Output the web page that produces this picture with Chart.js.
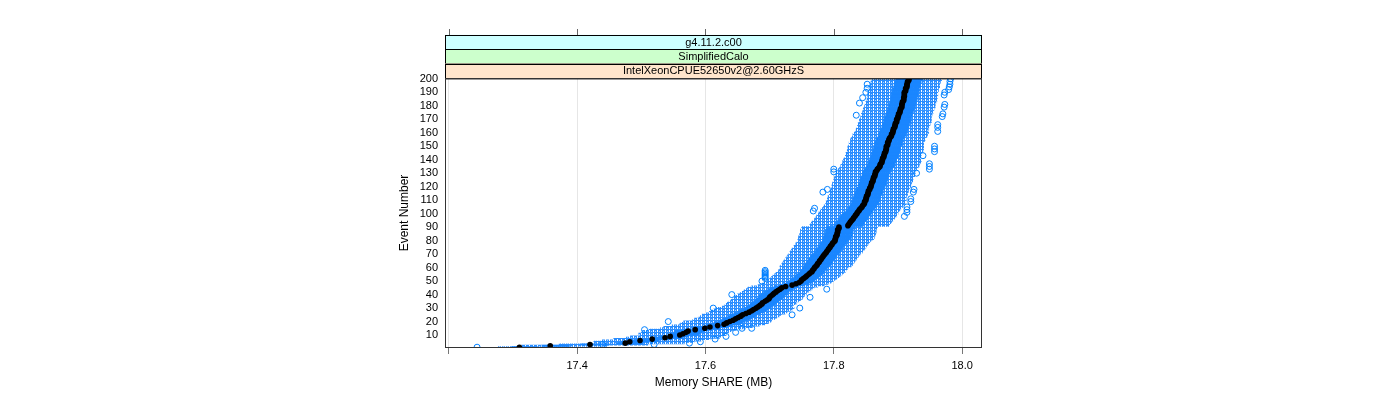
<!DOCTYPE html>
<html>
<head>
<meta charset="utf-8">
<script src="https://cdn.jsdelivr.net/npm/chart.js@4.4.0/dist/chart.umd.min.js"></script>
<style>
html, body { margin: 0; padding: 0; background: #fff; }
canvas { display: block; }
</style>
</head>
<body>
<canvas id="bwChart" width="1400" height="400"></canvas>
<script>
// panel strips, outermost first
const stripLabels = ['g4.11.2.c00', 'SimplifiedCalo', 'IntelXeonCPUE52650v2@2.60GHzS'];

// memory share (MB) per event number 1..200
const medians = [
  17.310, 17.358, 17.420, 17.475, 17.482, 17.498, 17.517, 17.537, 17.545, 17.560,
  17.565, 17.570, 17.573, 17.584, 17.599, 17.607, 17.619, 17.629, 17.633, 17.638,
  17.643, 17.647, 17.651, 17.655, 17.658, 17.663, 17.668, 17.672, 17.675, 17.679,
  17.682, 17.685, 17.688, 17.689, 17.693, 17.696, 17.699, 17.700, 17.702, 17.705,
  17.707, 17.710, 17.713, 17.716, 17.719, 17.725, 17.735, 17.741, 17.746, 17.749,
  17.750, 17.753, 17.756, 17.758, 17.761, 17.763, 17.766, 17.767, 17.769, 17.770,
  17.772, 17.774, 17.775, 17.777, 17.778, 17.780, 17.781, 17.783, 17.784, 17.786,
  17.788, 17.789, 17.791, 17.792, 17.794, 17.795, 17.797, 17.798, 17.800, 17.802,
  17.802, 17.803, 17.803, 17.805, 17.805, 17.806, 17.806, 17.806, 17.808, 17.808,
  17.822, 17.823, 17.825, 17.826, 17.828, 17.830, 17.831, 17.833, 17.834, 17.836,
  17.837, 17.839, 17.840, 17.842, 17.844, 17.845, 17.847, 17.848, 17.848, 17.850,
  17.850, 17.851, 17.851, 17.853, 17.853, 17.854, 17.854, 17.856, 17.856, 17.858,
  17.858, 17.859, 17.859, 17.861, 17.861, 17.862, 17.862, 17.864, 17.864, 17.865,
  17.865, 17.867, 17.868, 17.870, 17.872, 17.872, 17.873, 17.875, 17.875, 17.876,
  17.876, 17.878, 17.878, 17.879, 17.879, 17.881, 17.881, 17.882, 17.882, 17.882,
  17.884, 17.884, 17.884, 17.886, 17.886, 17.887, 17.889, 17.890, 17.890, 17.892,
  17.892, 17.893, 17.893, 17.895, 17.895, 17.896, 17.896, 17.898, 17.898, 17.898,
  17.900, 17.900, 17.901, 17.901, 17.903, 17.903, 17.904, 17.904, 17.906, 17.906,
  17.906, 17.907, 17.907, 17.909, 17.909, 17.909, 17.910, 17.910, 17.910, 17.910,
  17.912, 17.912, 17.912, 17.914, 17.914, 17.914, 17.915, 17.915, 17.917, 17.917
];

const boxLow = [
  17.298, 17.345, 17.406, 17.462, 17.468, 17.484, 17.503, 17.522, 17.530, 17.544,
  17.545, 17.551, 17.552, 17.564, 17.580, 17.587, 17.600, 17.609, 17.613, 17.619,
  17.624, 17.628, 17.633, 17.636, 17.639, 17.644, 17.650, 17.653, 17.656, 17.660,
  17.664, 17.667, 17.670, 17.672, 17.675, 17.678, 17.680, 17.682, 17.684, 17.687,
  17.689, 17.692, 17.695, 17.698, 17.701, 17.707, 17.716, 17.722, 17.727, 17.731,
  17.732, 17.735, 17.738, 17.740, 17.743, 17.745, 17.748, 17.749, 17.751, 17.752,
  17.753, 17.755, 17.756, 17.758, 17.759, 17.761, 17.762, 17.764, 17.765, 17.767,
  17.769, 17.770, 17.772, 17.773, 17.775, 17.776, 17.778, 17.779, 17.781, 17.783,
  17.783, 17.784, 17.784, 17.786, 17.786, 17.787, 17.787, 17.787, 17.789, 17.789,
  17.800, 17.801, 17.803, 17.804, 17.806, 17.808, 17.809, 17.811, 17.812, 17.814,
  17.817, 17.819, 17.820, 17.822, 17.824, 17.825, 17.827, 17.828, 17.828, 17.830,
  17.830, 17.831, 17.831, 17.833, 17.833, 17.834, 17.834, 17.836, 17.836, 17.838,
  17.838, 17.839, 17.839, 17.841, 17.841, 17.842, 17.842, 17.844, 17.844, 17.845,
  17.845, 17.847, 17.848, 17.850, 17.852, 17.852, 17.853, 17.855, 17.855, 17.856,
  17.856, 17.858, 17.858, 17.859, 17.859, 17.861, 17.861, 17.862, 17.862, 17.862,
  17.864, 17.864, 17.864, 17.866, 17.866, 17.867, 17.869, 17.870, 17.870, 17.872,
  17.872, 17.873, 17.873, 17.875, 17.875, 17.876, 17.876, 17.878, 17.878, 17.878,
  17.880, 17.880, 17.881, 17.881, 17.883, 17.883, 17.884, 17.884, 17.886, 17.886,
  17.886, 17.887, 17.887, 17.889, 17.889, 17.889, 17.890, 17.890, 17.890, 17.890,
  17.892, 17.892, 17.892, 17.894, 17.894, 17.894, 17.895, 17.895, 17.897, 17.897
];

const boxHigh = [
  17.338, 17.388, 17.450, 17.503, 17.512, 17.528, 17.546, 17.565, 17.574, 17.588,
  17.591, 17.594, 17.599, 17.609, 17.623, 17.633, 17.643, 17.653, 17.657, 17.662,
  17.665, 17.669, 17.672, 17.678, 17.680, 17.685, 17.690, 17.694, 17.697, 17.701,
  17.703, 17.706, 17.709, 17.711, 17.714, 17.716, 17.720, 17.722, 17.723, 17.726,
  17.727, 17.730, 17.733, 17.737, 17.739, 17.745, 17.755, 17.761, 17.766, 17.769,
  17.770, 17.773, 17.776, 17.778, 17.781, 17.783, 17.786, 17.787, 17.789, 17.790,
  17.793, 17.795, 17.796, 17.798, 17.799, 17.801, 17.802, 17.804, 17.805, 17.807,
  17.809, 17.810, 17.812, 17.813, 17.815, 17.816, 17.818, 17.819, 17.821, 17.823,
  17.826, 17.827, 17.827, 17.829, 17.829, 17.830, 17.830, 17.830, 17.832, 17.832,
  17.844, 17.845, 17.847, 17.848, 17.850, 17.852, 17.853, 17.855, 17.856, 17.858,
  17.859, 17.861, 17.862, 17.864, 17.866, 17.867, 17.869, 17.870, 17.870, 17.872,
  17.872, 17.873, 17.873, 17.875, 17.875, 17.876, 17.876, 17.878, 17.878, 17.880,
  17.880, 17.881, 17.881, 17.883, 17.883, 17.884, 17.884, 17.886, 17.886, 17.887,
  17.887, 17.889, 17.890, 17.892, 17.894, 17.894, 17.895, 17.897, 17.897, 17.898,
  17.898, 17.900, 17.900, 17.901, 17.901, 17.903, 17.903, 17.904, 17.904, 17.904,
  17.906, 17.906, 17.906, 17.908, 17.908, 17.909, 17.911, 17.912, 17.912, 17.914,
  17.914, 17.915, 17.915, 17.917, 17.917, 17.918, 17.918, 17.920, 17.920, 17.920,
  17.921, 17.921, 17.922, 17.922, 17.924, 17.924, 17.925, 17.925, 17.927, 17.927,
  17.927, 17.928, 17.928, 17.930, 17.930, 17.930, 17.931, 17.931, 17.931, 17.931,
  17.933, 17.933, 17.933, 17.935, 17.935, 17.935, 17.936, 17.936, 17.938, 17.938
];

const whiskerLow = [
  17.276, 17.313, 17.372, 17.425, 17.426, 17.438, 17.457, 17.475, 17.483, 17.498,
  17.496, 17.500, 17.502, 17.512, 17.530, 17.535, 17.548, 17.560, 17.562, 17.566,
  17.580, 17.583, 17.590, 17.592, 17.595, 17.600, 17.606, 17.609, 17.613, 17.617,
  17.626, 17.630, 17.632, 17.634, 17.637, 17.640, 17.643, 17.645, 17.646, 17.650,
  17.654, 17.657, 17.660, 17.663, 17.666, 17.672, 17.682, 17.688, 17.693, 17.696,
  17.697, 17.700, 17.703, 17.705, 17.708, 17.710, 17.713, 17.714, 17.716, 17.717,
  17.716, 17.718, 17.719, 17.721, 17.722, 17.724, 17.725, 17.727, 17.728, 17.730,
  17.731, 17.732, 17.734, 17.735, 17.737, 17.738, 17.740, 17.741, 17.743, 17.745,
  17.744, 17.745, 17.745, 17.747, 17.747, 17.748, 17.748, 17.748, 17.750, 17.750,
  17.762, 17.763, 17.765, 17.766, 17.768, 17.770, 17.771, 17.773, 17.774, 17.776,
  17.777, 17.779, 17.780, 17.782, 17.784, 17.785, 17.787, 17.788, 17.788, 17.790,
  17.790, 17.791, 17.791, 17.793, 17.793, 17.794, 17.794, 17.796, 17.796, 17.798,
  17.797, 17.798, 17.798, 17.800, 17.800, 17.801, 17.801, 17.803, 17.803, 17.804,
  17.804, 17.806, 17.807, 17.809, 17.811, 17.811, 17.812, 17.814, 17.814, 17.815,
  17.816, 17.818, 17.818, 17.819, 17.819, 17.821, 17.821, 17.822, 17.822, 17.822,
  17.824, 17.824, 17.824, 17.826, 17.826, 17.827, 17.829, 17.830, 17.830, 17.832,
  17.834, 17.835, 17.835, 17.837, 17.837, 17.838, 17.838, 17.840, 17.840, 17.840,
  17.842, 17.842, 17.843, 17.843, 17.845, 17.845, 17.846, 17.846, 17.848, 17.848,
  17.849, 17.850, 17.850, 17.852, 17.852, 17.852, 17.853, 17.853, 17.853, 17.853,
  17.855, 17.855, 17.855, 17.857, 17.857, 17.857, 17.858, 17.858, 17.860, 17.860
];

const whiskerHigh = [
  17.399, 17.446, 17.510, 17.567, 17.582, 17.593, 17.607, 17.622, 17.625, 17.632,
  17.632, 17.636, 17.640, 17.648, 17.662, 17.673, 17.684, 17.693, 17.698, 17.702,
  17.703, 17.708, 17.711, 17.715, 17.718, 17.724, 17.727, 17.732, 17.735, 17.738,
  17.734, 17.737, 17.741, 17.741, 17.745, 17.748, 17.751, 17.752, 17.754, 17.757,
  17.757, 17.760, 17.763, 17.766, 17.769, 17.775, 17.785, 17.791, 17.796, 17.799,
  17.802, 17.805, 17.808, 17.810, 17.813, 17.815, 17.818, 17.819, 17.821, 17.822,
  17.827, 17.829, 17.830, 17.832, 17.833, 17.835, 17.836, 17.838, 17.839, 17.841,
  17.844, 17.845, 17.847, 17.848, 17.850, 17.851, 17.853, 17.854, 17.856, 17.858,
  17.862, 17.863, 17.863, 17.865, 17.865, 17.866, 17.866, 17.866, 17.868, 17.868,
  17.886, 17.887, 17.889, 17.890, 17.892, 17.894, 17.895, 17.897, 17.898, 17.900,
  17.900, 17.902, 17.903, 17.905, 17.907, 17.908, 17.910, 17.911, 17.911, 17.913,
  17.912, 17.913, 17.913, 17.915, 17.915, 17.916, 17.916, 17.918, 17.918, 17.920,
  17.920, 17.921, 17.921, 17.923, 17.923, 17.924, 17.924, 17.926, 17.926, 17.927,
  17.926, 17.928, 17.929, 17.931, 17.933, 17.933, 17.934, 17.936, 17.936, 17.937,
  17.934, 17.936, 17.936, 17.937, 17.937, 17.939, 17.939, 17.940, 17.940, 17.940,
  17.940, 17.940, 17.940, 17.942, 17.942, 17.943, 17.945, 17.946, 17.946, 17.948,
  17.946, 17.947, 17.947, 17.949, 17.949, 17.950, 17.950, 17.952, 17.952, 17.952,
  17.952, 17.952, 17.953, 17.953, 17.955, 17.955, 17.956, 17.956, 17.958, 17.958,
  17.958, 17.959, 17.959, 17.961, 17.961, 17.961, 17.962, 17.962, 17.962, 17.962,
  17.963, 17.963, 17.963, 17.965, 17.965, 17.965, 17.966, 17.966, 17.968, 17.968
];

// single runs outside the whiskers
const outlierEvents = [
  200, 198, 196, 194, 192, 190, 188, 181, 179, 174, 172, 166, 164, 161, 150, 148, 146, 143,
  137, 135, 133, 130, 118, 116, 111, 109, 105, 103, 101, 98,
  196, 193, 190, 186, 182, 173, 133, 131, 118, 116, 104, 102,
  58, 57, 56, 55, 54, 53, 52, 50, 44, 40, 38, 30, 30, 25, 20, 15, 15, 14, 12, 9, 7, 5, 4, 3, 3, 1
];
const outlierValues = [
  17.982, 17.981, 17.981, 17.980, 17.979, 17.973, 17.972, 17.973, 17.972, 17.970, 17.969, 17.962, 17.962, 17.962, 17.957, 17.957, 17.957, 17.939,
  17.949, 17.949, 17.949, 17.929, 17.925, 17.924, 17.920, 17.920, 17.914, 17.914, 17.914, 17.910,
  17.852, 17.852, 17.850, 17.845, 17.840, 17.835, 17.800, 17.800, 17.790, 17.783, 17.770, 17.768,
  17.693, 17.693, 17.693, 17.693, 17.693, 17.693, 17.693, 17.688, 17.789, 17.641, 17.763, 17.612, 17.747, 17.735, 17.542, 17.672, 17.657, 17.505, 17.647, 17.632, 17.615, 17.592, 17.575, 17.520, 17.440, 17.244
];

const xTicks = [17.2, 17.4, 17.6, 17.8, 18.0];
const yTicks = [10, 20, 30, 40, 50, 60, 70, 80, 90, 100, 110, 120, 130, 140, 150, 160, 170, 180, 190, 200];

const stripColors = ['#ccffff', '#ccffcc', '#ffe5cc'];
const boxBlue = '#0080ff';
const font = 'Liberation Sans, Arial, sans-serif';

const canvas = document.getElementById('bwChart');
const ctx = canvas.getContext('2d');

// dashed whisker look: blue with small white gaps
function stipple() {
    const c = document.createElement('canvas');
    c.width = 4;
    c.height = 3;
    const g = c.getContext('2d');
    g.fillStyle = '#2a8dff';
    g.fillRect(0, 0, 4, 3);
    g.fillStyle = '#ffffff';
    g.fillRect(1, 0, 1, 2);
    g.fillStyle = '#a8d2ff';
    g.fillRect(3, 1, 1, 1);
    return ctx.createPattern(c, 'repeat');
}

const events = medians.map((_, i) => i + 1);
const whiskerData = events.map((e, i) => ({ y: e, x: [whiskerLow[i], whiskerHigh[i]] }));
const boxData = events.map((e, i) => ({ y: e, x: [boxLow[i], boxHigh[i]] }));
const medianData = events.map((e, i) => ({ y: e, x: medians[i] }));
const outlierData = outlierEvents.map((e, i) => ({ y: e, x: outlierValues[i] }));

const latticeFrame = {
    id: 'latticeFrame',
    afterDraw(chart) {
        const { left, right, top, bottom } = chart.chartArea;
        const c = chart.ctx;
        const h = 14.4;
        c.save();
        // strips above the panel
        c.font = '11px ' + font;
        c.textAlign = 'center';
        c.textBaseline = 'middle';
        stripLabels.forEach((lab, i) => {
            const y0 = top - (stripLabels.length - i) * h;
            c.fillStyle = stripColors[i];
            c.fillRect(left, y0, right - left, h);
            c.strokeStyle = '#000';
            c.lineWidth = 1;
            c.strokeRect(left + 0.5, Math.round(y0) + 0.5, right - left - 1, h);
            c.fillStyle = '#000';
            c.fillText(lab, (left + right) / 2, y0 + h / 2 + 0.5);
        });
        // panel border
        c.strokeStyle = '#333';
        c.strokeRect(left + 0.5, top + 0.5, right - left - 1, bottom - top - 1);
        // top axis ticks
        const sx = chart.scales.x;
        const stripTop = Math.round(top - stripLabels.length * h);
        c.strokeStyle = '#666';
        xTicks.forEach(v => {
            const px = Math.round(sx.getPixelForValue(v)) + 0.5;
            c.beginPath();
            c.moveTo(px, stripTop);
            c.lineTo(px, stripTop - 6);
            c.stroke();
        });
        c.restore();
    }
};

new Chart(ctx, {
    type: 'bar',
    data: {
        datasets: [
            {
                type: 'scatter',
                data: medianData,
                pointRadius: 2.8,
                pointBackgroundColor: '#000',
                pointBorderWidth: 0,
                order: 0
            },
            {
                type: 'scatter',
                data: outlierData,
                pointRadius: 3,
                pointBackgroundColor: 'rgba(0,0,0,0)',
                pointBorderColor: boxBlue,
                pointBorderWidth: 1,
                order: 1
            },
            {
                data: boxData,
                backgroundColor: '#1a86ff',
                borderWidth: 0,
                grouped: false,
                barPercentage: 1,
                categoryPercentage: 1,
                order: 2
            },
            {
                data: whiskerData,
                backgroundColor: stipple(),
                borderWidth: 0,
                grouped: false,
                barPercentage: 1,
                categoryPercentage: 1,
                order: 3
            }
        ]
    },
    options: {
        indexAxis: 'y',
        responsive: false,
        devicePixelRatio: 1,
        animation: false,
        events: [],
        layout: { padding: { left: 393, right: 418, top: 78, bottom: 0 } },
        plugins: {
            legend: { display: false },
            tooltip: { enabled: false }
        },
        scales: {
            x: {
                type: 'linear',
                position: 'bottom',
                min: 17.194,
                max: 18.031,
                afterBuildTicks: s => { s.ticks = xTicks.map(v => ({ value: v })); },
                afterFit: s => { s.height = 52; },
                ticks: {
                    color: '#000',
                    font: { family: font, size: 11 },
                    padding: 5,
                    maxRotation: 0,
                    autoSkip: false,
                    callback: v => (v === 17.2 ? '' : v.toFixed(1))
                },
                grid: { color: '#e6e6e6', tickColor: '#777', tickLength: 6 },
                border: { display: false },
                title: {
                    display: true,
                    text: 'Memory SHARE (MB)',
                    color: '#000',
                    font: { family: font, size: 12 },
                    padding: { top: 0, bottom: 10 }
                }
            },
            y: {
                type: 'linear',
                offset: false,
                min: 0.4,
                max: 200.6,
                afterBuildTicks: s => { s.ticks = yTicks.map(v => ({ value: v })); },
                afterFit: s => { s.width = 52; },
                ticks: {
                    color: '#000',
                    font: { family: font, size: 11 },
                    padding: 7,
                    autoSkip: false
                },
                grid: { display: false, drawTicks: false },
                border: { display: false },
                title: {
                    display: true,
                    text: 'Event Number',
                    color: '#000',
                    font: { family: font, size: 12 }
                }
            }
        }
    },
    plugins: [latticeFrame]
});
</script>
</body>
</html>
